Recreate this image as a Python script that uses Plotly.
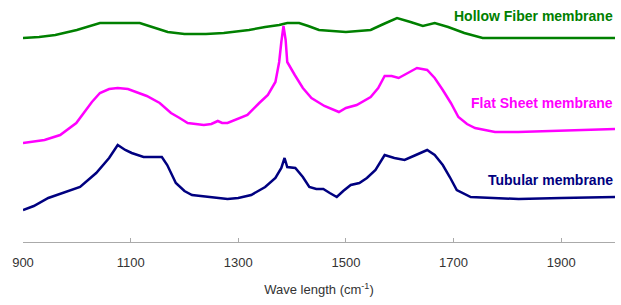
import plotly.graph_objects as go

# Wavenumber (cm^-1) and relative intensity (arbitrary offset units)
hollow_x = [900, 930, 960, 1000, 1043, 1080, 1117, 1140, 1169, 1200, 1240, 1273, 1320, 1350, 1376,
            1391, 1413, 1430, 1450, 1500, 1546, 1570, 1595, 1620, 1643, 1665, 1690, 1720, 1754, 1800, 2000]
hollow_y = [204, 205, 207, 212, 219, 219, 219, 215, 210, 208, 208, 209, 212, 215, 217,
            219, 219, 216, 212, 210, 212, 218, 224, 220, 216, 219, 215, 209, 204, 204, 204]

flat_x = [900, 940, 969, 999, 1028, 1043, 1060, 1076, 1095, 1110, 1130, 1154, 1175, 1191, 1206, 1236,
          1250, 1262, 1270, 1280, 1302, 1317, 1339, 1355, 1369, 1376, 1380, 1384, 1388, 1391, 1405,
          1420, 1436, 1460, 1487, 1500, 1520, 1546, 1560, 1572, 1585, 1598, 1615, 1632, 1651, 1665,
          1680, 1695, 1709, 1725, 1740, 1777, 1820, 1894, 1950, 2000]
flat_y = [99, 102, 107, 119, 140, 149, 153, 154, 153, 150, 146, 139, 129, 124, 119, 117,
          118, 121, 119, 119, 124, 127, 139, 147, 160, 180, 200, 216, 202, 180, 167,
          154, 144, 136, 130, 134, 137, 145, 154, 166, 166, 164, 169, 174, 172, 164,
          152, 139, 125, 118, 114, 110, 110, 111, 112, 113]

tub_x = [900, 920, 947, 975, 1006, 1036, 1060, 1076, 1090, 1102, 1124, 1158, 1168, 1184, 1200, 1214,
         1250, 1280, 1300, 1324, 1350, 1369, 1380, 1386, 1391, 1406, 1420, 1432, 1445, 1458, 1470,
         1483, 1495, 1509, 1525, 1539, 1555, 1572, 1590, 1609, 1630, 1651, 1665, 1680, 1693, 1706,
         1732, 1780, 1821, 1900, 2000]
tub_y = [32, 36, 44, 49, 55, 69, 84, 97, 92, 89, 85, 85, 77, 59, 51, 47,
         45, 43, 44, 47, 55, 64, 74, 84, 75, 74, 65, 55, 53, 53, 49,
         45, 51, 57, 59, 64, 72, 87, 84, 82, 87, 92, 87, 77, 65, 52,
         45, 44, 43, 44, 45]

series_names = ["Hollow Fiber membrane", "Flat Sheet membrane", "Tubular membrane"]
label_y = [226, 139, 62]
tick_vals = [900, 1100, 1300, 1500, 1700, 1900]
colors = ["#008000", "#FF00FF", "#000080"]

fig = go.Figure()
for xs, ys, c, n in [(hollow_x, hollow_y, colors[0], series_names[0]),
                     (flat_x, flat_y, colors[1], series_names[1]),
                     (tub_x, tub_y, colors[2], series_names[2])]:
    fig.add_trace(go.Scatter(x=xs, y=ys, mode="lines", name=n,
                             line=dict(color=c, width=2.5), showlegend=False))

for n, yv, c in zip(series_names, label_y, colors):
    fig.add_annotation(x=1, xref="paper", xanchor="right", y=yv / 237.0, yref="paper",
                       yanchor="middle", text="<b>%s</b>" % n, showarrow=False,
                       font=dict(family="Liberation Sans, Arial", size=14, color=c))

fig.update_layout(
    width=621, height=305,
    margin=dict(l=23, r=6, t=5, b=63, autoexpand=False),
    paper_bgcolor="white", plot_bgcolor="white",
    font=dict(family="Liberation Sans, Arial", size=13, color="#333"),
)
fig.update_xaxes(range=[900, 2000], tickvals=tick_vals, showgrid=False, zeroline=False,
                 automargin=False,
                 showline=True, linecolor="#aaa", linewidth=1,
                 ticks="inside", ticklen=4, tickcolor="#aaa",
                 ticklabelstandoff=8,
                 title=dict(text="Wave length (cm<sup>-1</sup>)", standoff=16,
                            font=dict(size=13)))
fig.update_yaxes(range=[0, 237], visible=False)

fig.write_html("out.html", config={"displayModeBar": False},
               post_script="document.body.style.margin='0';document.body.style.overflow='hidden';")
